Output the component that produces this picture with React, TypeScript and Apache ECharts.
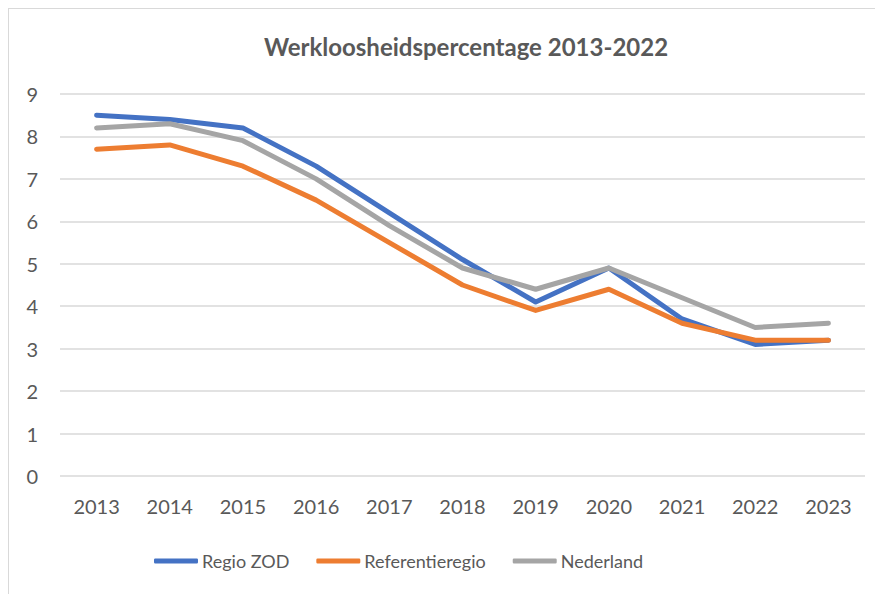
import React, { useEffect, useRef } from "react";
import * as echarts from "echarts";

const years = ["2013", "2014", "2015", "2016", "2017", "2018", "2019", "2020", "2021", "2022", "2023"];
const regioZOD = [8.5, 8.4, 8.2, 7.3, 6.2, 5.1, 4.1, 4.9, 3.7, 3.1, 3.2];
const referentieregio = [7.7, 7.8, 7.3, 6.5, 5.5, 4.5, 3.9, 4.4, 3.6, 3.2, 3.2];
const nederland = [8.2, 8.3, 7.9, 7.0, 5.9, 4.9, 4.4, 4.9, 4.2, 3.5, 3.6];

const FONT = "Lato, 'Noto Sans', sans-serif";
const TEXT = "#595959";

export default function App() {
  const ref = useRef<HTMLDivElement>(null);
  useEffect(() => {
    if (!ref.current) return;
    const chart = echarts.init(ref.current, undefined, { renderer: "svg" });
    const mk = (name: string, data: number[], color: string) => ({
      name,
      type: "line",
      data,
      showSymbol: false,
      symbol: "none",
      lineStyle: { color, width: 5, cap: "round", join: "round" },
      itemStyle: { color },
    });
    chart.setOption({
      animation: false,
      title: {
        text: "Werkloosheidspercentage 2013-2022",
        left: 452,
        top: 20,
        textAlign: "center",
        textStyle: { fontFamily: FONT, fontSize: 24, fontWeight: "bold", color: TEXT },
      },
      grid: { left: 51, top: 85, width: 805, height: 382, containLabel: false },
      legend: {
        left: 140,
        top: 538,
        icon: "roundRect",
        itemWidth: 44,
        itemHeight: 5,
        itemGap: 27,
        textStyle: { fontFamily: FONT, fontSize: 18, color: TEXT, padding: [0, 0, 0, -1] },
        data: ["Regio ZOD", "Referentieregio", "Nederland"],
      },
      xAxis: {
        type: "category",
        data: years,
        boundaryGap: true,
        axisLine: { show: false },
        axisTick: { show: false },
        axisLabel: { fontFamily: FONT, fontSize: 20, color: TEXT, margin: 20 },
      },
      yAxis: {
        type: "value",
        min: 0,
        max: 9,
        interval: 1,
        axisLine: { show: false },
        axisTick: { show: false },
        axisLabel: { fontFamily: FONT, fontSize: 20, color: TEXT, margin: 22 },
        splitLine: { lineStyle: { color: "#d9d9d9", width: 1.5 } },
      },
      series: [
        mk("Regio ZOD", regioZOD, "#4472C4"),
        mk("Referentieregio", referentieregio, "#ED7D31"),
        mk("Nederland", nederland, "#A5A5A5"),
      ],
    });
    return () => chart.dispose();
  }, []);
  return (
    <div style={{ borderLeft: "1px solid #d9d9d9", borderTop: "1px solid #d9d9d9", width: 874, height: 585 }}>
      <div ref={ref} style={{ width: 874, height: 585 }} />
    </div>
  );
}
